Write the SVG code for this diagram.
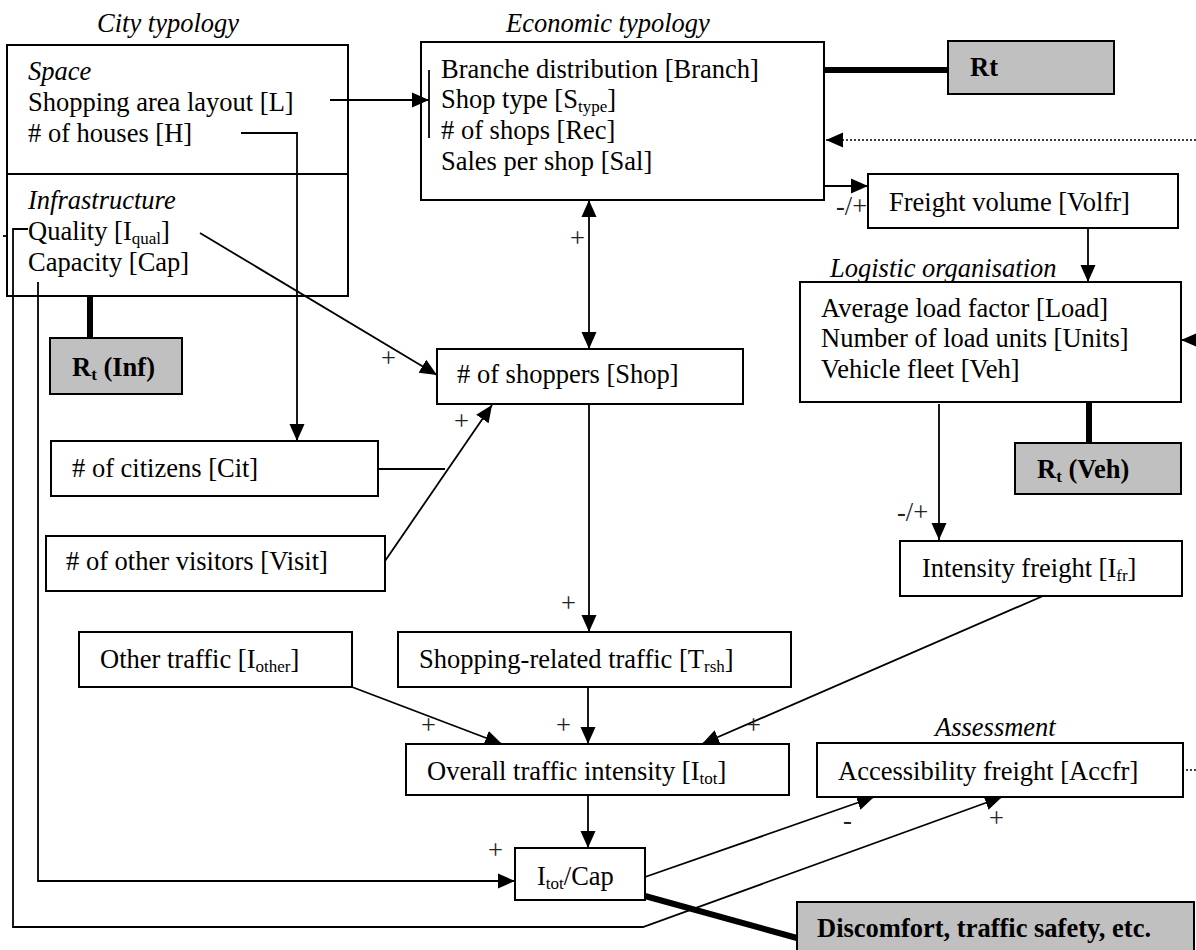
<svg xmlns="http://www.w3.org/2000/svg" width="1196" height="950" viewBox="0 0 1196 950">
<style>
text{font-family:"Liberation Serif","Times New Roman",serif;font-size:26.5px;fill:#000}
.it{font-style:italic}
.b{font-weight:bold}
.sg{fill:#222}
.sub{font-size:17px}
.box{fill:#fff;stroke:#000;stroke-width:2}
.gray{fill:#c0c0c0;stroke:#000;stroke-width:2}
.ln{fill:none;stroke:#000;stroke-width:1.8}
.arr{marker-end:url(#ah)}
.thick{fill:none;stroke:#000;stroke-width:6}
.dot{fill:none;stroke:#000;stroke-width:1.5;stroke-dasharray:2,2}
</style>
<defs>
<marker id="ah" markerUnits="userSpaceOnUse" markerWidth="17" markerHeight="17" viewBox="0 0 17 17" refX="17" refY="8.5" orient="auto-start-reverse">
<path d="M0,1 L17,8.5 L0,16 z" fill="#000"/>
</marker>
</defs>
<rect width="1196" height="950" fill="#fff"/>

<g id="connectors">
<polyline class="ln arr" points="330,100 429,100"/>
<line class="ln" x1="429" y1="70" x2="429" y2="138"/>
<polyline class="ln arr" points="241,133 297,133 297,441"/>
<polyline class="ln arr" points="200,233 437,375"/>
<polyline class="ln arr" points="38,282 38,881 515,881"/>
<polyline class="ln arr" points="28,229 13,229 13,927 643,927 1002,797"/>
<line class="ln" x1="3" y1="236" x2="8" y2="236"/>
<line class="thick" x1="90" y1="296" x2="90" y2="338"/>
<line class="ln arr" x1="589" y1="349" x2="589" y2="200" style="marker-start:url(#ah)"/>
<line class="ln arr" x1="589" y1="404" x2="589" y2="632"/>
<line class="ln" x1="378" y1="469" x2="445" y2="469"/>
<line class="ln arr" x1="385" y1="561" x2="492" y2="405"/>
<line class="thick" x1="824" y1="70" x2="948" y2="70"/>
<line class="dot arr" x1="1196" y1="140" x2="826" y2="140"/>
<line class="ln arr" x1="824" y1="186" x2="868" y2="186"/>
<line class="ln arr" x1="1088" y1="228" x2="1088" y2="282"/>
<line class="ln arr" x1="1198" y1="340" x2="1181" y2="340"/>
<line class="thick" x1="1089" y1="402" x2="1089" y2="443"/>
<line class="ln arr" x1="939" y1="404" x2="939" y2="540"/>
<line class="ln arr" x1="588" y1="687" x2="588" y2="744"/>
<line class="ln arr" x1="352" y1="687" x2="502" y2="744"/>
<line class="ln arr" x1="1043" y1="596" x2="702" y2="744"/>
<line class="ln arr" x1="588" y1="795" x2="588" y2="848"/>
<line class="ln arr" x1="645" y1="877" x2="874" y2="797"/>
<line class="thick" x1="645" y1="896" x2="797" y2="938"/>
<line class="dot" x1="1186" y1="770" x2="1196" y2="770"/>
</g>

<g id="labels">
<text class="sg" x="570" y="247">+</text>
<text class="sg" x="836" y="215">-/+</text>
<text class="sg" x="381" y="367">+</text>
<text class="sg" x="454" y="430">+</text>
<text class="sg" x="897" y="521">-/+</text>
<text class="sg" x="561" y="612">+</text>
<text class="sg" x="421" y="734">+</text>
<text class="sg" x="556" y="734">+</text>
<text class="sg" x="746" y="734">+</text>
<text class="sg" x="488" y="859">+</text>
<text class="sg" x="843" y="829">-</text>
<text class="sg" x="989" y="827">+</text>
</g>

<g id="city">
<text class="it" x="97" y="32">City typology</text>
<rect class="box" x="7" y="45" width="341" height="251" style="fill:none"/>
<line class="ln" x1="7" y1="174" x2="348" y2="174" style="stroke-width:2"/>
<text class="it" x="28" y="80">Space</text>
<text x="28" y="111">Shopping area layout [L]</text>
<text x="28" y="142"># of houses [H]</text>
<text class="it" x="28" y="209">Infrastructure</text>
<text x="28" y="240">Quality [I<tspan class="sub" dy="4">qual</tspan><tspan dy="-4">]</tspan></text>
<text x="28" y="271">Capacity [Cap]</text>
</g>

<g id="econ">
<text class="it" x="506" y="32">Economic typology</text>
<rect class="box" x="421" y="42" width="403" height="158" style="fill:none"/>
<text x="441" y="78">Branche distribution [Branch]</text>
<text x="441" y="108">Shop type [S<tspan class="sub" dy="4">type</tspan><tspan dy="-4">]</tspan></text>
<text x="441" y="139"># of shops [Rec]</text>
<text x="441" y="170">Sales per shop [Sal]</text>
</g>

<g id="rt">
<rect class="gray" x="948" y="41" width="166" height="53"/>
<text class="b" x="970" y="76">Rt</text>
</g>

<g id="freight-volume">
<rect class="box" x="868" y="174" width="310" height="54"/>
<text x="889" y="211">Freight volume [Volfr]</text>
</g>

<g id="logistic">
<text class="it" x="830" y="277">Logistic organisation</text>
<rect class="box" x="800" y="282" width="381" height="120"/>
<text x="821" y="317">Average load factor [Load]</text>
<text x="821" y="347">Number of load units [Units]</text>
<text x="821" y="378">Vehicle fleet [Veh]</text>
</g>

<g id="rt-veh">
<rect class="gray" x="1015" y="443" width="166" height="51"/>
<text class="b" x="1037" y="478">R<tspan class="sub" dy="4">t</tspan><tspan dy="-4"> (Veh)</tspan></text>
</g>

<g id="rt-inf">
<rect class="gray" x="50" y="338" width="132" height="56"/>
<text class="b" x="72" y="376">R<tspan class="sub" dy="4">t</tspan><tspan dy="-4"> (Inf)</tspan></text>
</g>

<g id="shoppers">
<rect class="box" x="437" y="349" width="306" height="55"/>
<text x="457" y="383"># of shoppers [Shop]</text>
</g>

<g id="citizens">
<rect class="box" x="51" y="441" width="327" height="55"/>
<text x="72" y="477"># of citizens [Cit]</text>
</g>

<g id="visitors">
<rect class="box" x="46" y="536" width="339" height="55"/>
<text x="66" y="570"># of other visitors [Visit]</text>
</g>

<g id="intensity-freight">
<rect class="box" x="900" y="541" width="282" height="55"/>
<text x="922" y="577">Intensity freight [I<tspan class="sub" dy="4">fr</tspan><tspan dy="-4">]</tspan></text>
</g>

<g id="other-traffic">
<rect class="box" x="79" y="632" width="273" height="55"/>
<text x="100" y="668">Other traffic [I<tspan class="sub" dy="4">other</tspan><tspan dy="-4">]</tspan></text>
</g>

<g id="shopping-traffic">
<rect class="box" x="398" y="632" width="393" height="55"/>
<text x="419" y="668">Shopping-related traffic [T<tspan class="sub" dy="4">rsh</tspan><tspan dy="-4">]</tspan></text>
</g>

<g id="overall">
<rect class="box" x="406" y="744" width="383" height="51"/>
<text x="427" y="780">Overall traffic intensity [I<tspan class="sub" dy="4">tot</tspan><tspan dy="-4">]</tspan></text>
</g>

<g id="assessment">
<text class="it" x="935" y="736">Assessment</text>
<rect class="box" x="817" y="743" width="366" height="54"/>
<text x="838" y="780">Accessibility freight [Accfr]</text>
</g>

<g id="itot-cap">
<rect class="box" x="515" y="848" width="130" height="52"/>
<text x="537" y="885">I<tspan class="sub" dy="4">tot</tspan><tspan dy="-4">/Cap</tspan></text>
</g>

<g id="discomfort">
<rect class="gray" x="797" y="902" width="397" height="60"/>
<text class="b" x="817" y="937">Discomfort, traffic safety, etc.</text>
</g>
</svg>
